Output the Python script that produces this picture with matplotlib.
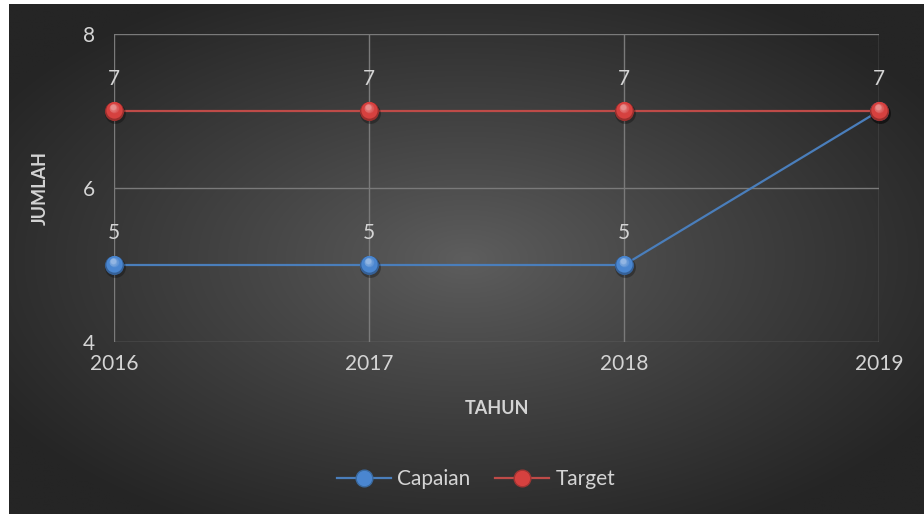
import numpy as np
import matplotlib
matplotlib.use("Agg")
import matplotlib.pyplot as plt
import matplotlib.transforms as mtransforms
from matplotlib.colors import to_rgb
from matplotlib.lines import Line2D

# data
years = [2016, 2017, 2018, 2019]
capaian = [5, 5, 5, 7]
target = [7, 7, 7, 7]
series_names = ["Capaian", "Target"]
yticks = [4, 6, 8]

plt.rcParams['font.family'] = ['Lato', 'DejaVu Sans']
txt = '#d4d4d4'

fig = plt.figure(figsize=(9.24, 5.14), dpi=100)
fig.patch.set_facecolor('white')

# dark radial gradient background (chart area)
bg = fig.add_axes([9 / 924, 0, 915 / 924, 510 / 514], zorder=-5)
gx, gy = np.meshgrid(np.linspace(-1, 1, 400), np.linspace(-1, 1, 240))
r = np.clip(np.sqrt(gx ** 2 + gy ** 2) / 1.2, 0, 1) ** 0.9
c_in = np.array(to_rgb('#5e5e5e'))
c_out = np.array(to_rgb('#252525'))
img = c_in[None, None, :] * (1 - r[..., None]) + c_out[None, None, :] * r[..., None]
bg.imshow(img, aspect='auto', extent=[0, 1, 0, 1], interpolation='bilinear')
bg.axis('off')

ax = fig.add_axes([114 / 924, 1 - 342 / 514, (879 - 114) / 924, (342 - 34) / 514])
ax.set_facecolor('none')
ax.set_xlim(2016, 2019)
ax.set_ylim(4, 8)
ax.set_xticks(years)
ax.set_yticks(yticks)
ax.grid(True, color='#7a7a7a', lw=1.0)
for s in ax.spines.values():
    s.set_visible(False)
ax.tick_params(length=0, colors=txt, labelsize=15, pad=9)
ax.tick_params(axis='y', pad=14)
for lab in ax.get_xticklabels() + ax.get_yticklabels():
    lab.set_color(txt)


def sphere(xs, ys, color, z):
    base = np.array(to_rgb(color))
    dark = base * 0.72
    light = base + (1 - base) * 0.4
    # soft shadow
    sh = mtransforms.offset_copy(ax.transData, fig=fig, x=1.0, y=-1.5, units='points')
    ax.plot(xs, ys, 'o', ms=15, color='black', alpha=0.3, mec='none', transform=sh, zorder=z,
            clip_on=False)
    ax.plot(xs, ys, 'o', ms=13.8, color=dark, mec='none', zorder=z + 0.1, clip_on=False)
    n = 10
    for k in range(n):
        t = (k + 1) / n
        if t < 0.55:
            col = base
        else:
            u = (t - 0.55) / 0.45
            col = base * (1 - u) + light * u
        ms = 12.6 * (1 - 0.7 * t)
        off = mtransforms.offset_copy(ax.transData, fig=fig, x=-0.5 * t, y=0.7 + 2.2 * t, units='points')
        ax.plot(xs, ys, 'o', ms=ms, color=np.clip(col, 0, 1), mec='none', transform=off,
                zorder=z + 0.2 + k * 0.01, clip_on=False)


ax.plot(years, capaian, color='#4a7ebb', lw=1.6, zorder=3, clip_on=False)
ax.plot(years, target, color='#be4b48', lw=1.6, zorder=3, clip_on=False)
sphere(years, capaian, '#4a86d0', 4)
sphere(years, target, '#d6413f', 6)

for x, y in zip(years, capaian):
    if y != 7:
        ax.annotate(str(y), (x, y), xytext=(0, 23), textcoords='offset points',
                    ha='center', va='center', color=txt, fontsize=15)
for x, y in zip(years, target):
    ax.annotate(str(y), (x, y), xytext=(0, 23), textcoords='offset points',
                ha='center', va='center', color=txt, fontsize=15)

fig.text(40 / 924, 1 - 188 / 514, 'JUMLAH', rotation=90, ha='center', va='center',
         color=txt, fontsize=13, fontweight='bold')
fig.text(497 / 924, 1 - 409 / 514, 'TAHUN', ha='center', va='center',
         color=txt, fontsize=13, fontweight='bold')

handles = [
    Line2D([0], [0], color='#4a7ebb', lw=1.6, marker='o', ms=12, mfc='#4a86d0', mec='#3a6aa0'),
    Line2D([0], [0], color='#be4b48', lw=1.6, marker='o', ms=12, mfc='#d6413f', mec='#a03432'),
]
leg = fig.legend(handles, series_names, loc='center', bbox_to_anchor=(476 / 924, 1 - 479 / 514),
                 ncol=2, frameon=False, fontsize=15, handlelength=2.6, columnspacing=1.2,
                 handletextpad=0.3)
for t in leg.get_texts():
    t.set_color(txt)

fig.savefig('out.png', dpi=100, facecolor=fig.get_facecolor())
